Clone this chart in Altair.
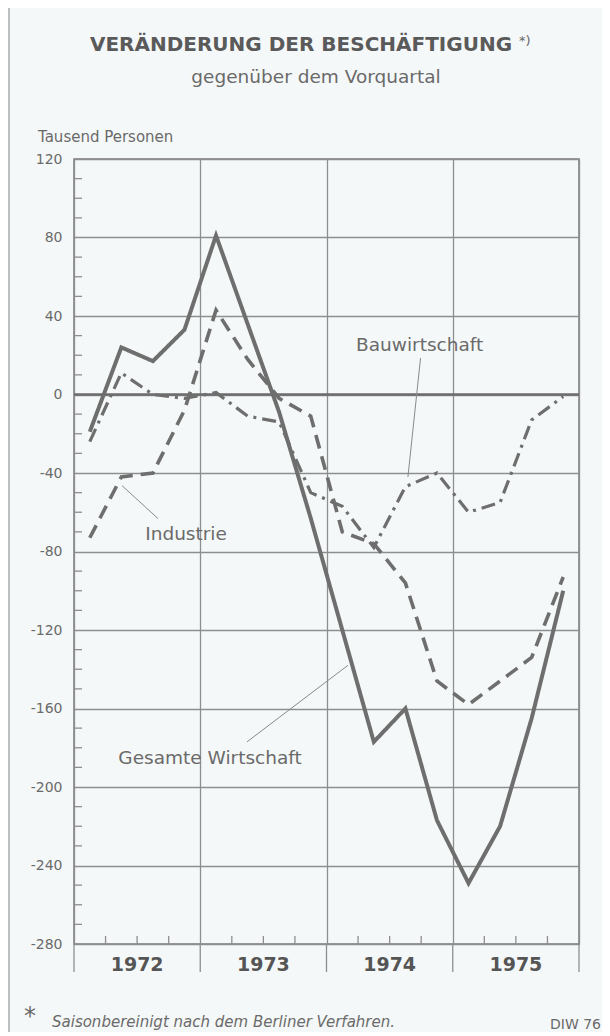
import altair as alt
import pandas as pd

# ---- data (quarterly, 1972 Q1 .. 1975 Q4) ----
quarter_pos = [i + 0.5 for i in range(16)]
gesamt = [-19, 24, 17, 33, 81, 36, -9, -63, -120, -177, -160, -217, -249, -220, -165, -100]
industrie = [-73, -42, -40, -8, 43, 18, -2, -11, -70, -76, -96, -146, -158, -146, -134, -93]
bau = [-24, 11, 0, -2, 1, -11, -14, -50, -57, -78, -47, -40, -60, -55, -13, -1]

years = ["1972", "1973", "1974", "1975"]
year_centers = [2, 6, 10, 14]
year_bounds = [0, 4, 8, 12, 16]
quarter_bounds = [q for q in range(1, 16) if q % 4 != 0]
y_major = list(range(-280, 121, 40))
y_minor = [v for v in range(-270, 120, 10) if v % 40 != 0]

series_labels = ["Bauwirtschaft", "Industrie", "Gesamte Wirtschaft"]
label_x = [10.95, 3.55, 4.31]
label_y = [25, -71, -185]
leader_x = [10.98, 2.66, 5.48]
leader_y = [18.6, -63.2, -177]
leader_x2 = [10.58, 1.52, 8.68]
leader_y2 = [-42, -46.4, -138]

W, H = 505, 785
FONT = "DejaVu Sans"
INK = "#6a6a6a"
GRID = "#8e8e8e"
LINE = "#6e6e6e"

xs = alt.Scale(domain=[0, 16], nice=False, zero=False)
ys = alt.Scale(domain=[-280, 120], nice=False, zero=False)

df = pd.DataFrame({
    "q": quarter_pos * 3,
    "v": gesamt + industrie + bau,
    "s": ["Gesamte Wirtschaft"] * 16 + ["Industrie"] * 16 + ["Bauwirtschaft"] * 16,
})

grid = alt.Chart(df).mark_point(opacity=0).encode(
    x=alt.X("q:Q", scale=xs, axis=alt.Axis(values=year_bounds, grid=True, gridColor=GRID,
                                           gridWidth=1.3, labels=False, ticks=False,
                                           domain=False, title=None)),
    y=alt.Y("v:Q", scale=ys, axis=alt.Axis(values=y_major, grid=True, gridColor=GRID,
                                           gridWidth=1.3, ticks=False, domain=False,
                                           labelExpr="'' + datum.value", labelFont=FONT,
                                           labelFontSize=14, labelColor=INK, labelPadding=12,
                                           title=None)),
)

zero = alt.Chart(pd.DataFrame({"v": [0]})).mark_rule(color="#6c6c6c", strokeWidth=2.6).encode(
    y=alt.Y("v:Q", scale=ys))

ymin = alt.Chart(pd.DataFrame({"v": y_minor})).mark_rule(color=GRID, strokeWidth=1.3).encode(
    y=alt.Y("v:Q", scale=ys), x=alt.value(0), x2=alt.value(8))

qmin = alt.Chart(pd.DataFrame({"q": quarter_bounds})).mark_rule(color=GRID, strokeWidth=1.3).encode(
    x=alt.X("q:Q", scale=xs), y=alt.value(H), y2=alt.value(H - 8))

ysep = alt.Chart(pd.DataFrame({"q": year_bounds})).mark_rule(color=GRID, strokeWidth=1.3).encode(
    x=alt.X("q:Q", scale=xs), y=alt.value(H), y2=alt.value(H + 28))

ylab = alt.Chart(pd.DataFrame({"q": year_centers, "t": years})).mark_text(
    font=FONT, fontSize=19, fontWeight="bold", color="#555555", baseline="middle").encode(
    x=alt.X("q:Q", scale=xs), y=alt.value(H + 21), text="t:N")

def series(name, dash, width):
    return alt.Chart(df[df.s == name]).mark_line(
        color=LINE, strokeWidth=width, strokeDash=dash, strokeJoin="miter", strokeCap="butt").encode(
        x=alt.X("q:Q", scale=xs), y=alt.Y("v:Q", scale=ys))

l_ges = series("Gesamte Wirtschaft", [1, 0], 4)
l_ind = series("Industrie", [14, 8], 3.6)
l_bau = series("Bauwirtschaft", [14, 6, 3, 6], 3.2)

ann = pd.DataFrame({"t": series_labels, "x": label_x, "y": label_y,
                    "lx": leader_x, "ly": leader_y, "lx2": leader_x2, "ly2": leader_y2})
leaders = alt.Chart(ann).mark_rule(color="#8a8a8a", strokeWidth=1).encode(
    x=alt.X("lx:Q", scale=xs), y=alt.Y("ly:Q", scale=ys),
    x2="lx2:Q", y2="ly2:Q")
labels = alt.Chart(ann).mark_text(font=FONT, fontSize=18.5, color=INK, baseline="middle").encode(
    x=alt.X("x:Q", scale=xs), y=alt.Y("y:Q", scale=ys), text="t:N")

def txt(s, x, y, size, weight="normal", align="center", style="normal", color=INK):
    return alt.Chart(pd.DataFrame({"t": [s]})).mark_text(
        font=FONT, fontSize=size, fontWeight=weight, align=align, fontStyle=style,
        color=color, baseline="middle").encode(x=alt.value(x), y=alt.value(y), text="t:N")

title = txt("VERÄNDERUNG DER BESCHÄFTIGUNG", 227, -114, 20, "bold", color="#5a5a5a")
star = txt("*)", 445, -118, 13, color="#666666", align="left")
subtitle = txt("gegenüber dem Vorquartal", 242, -82, 18.5)
unit = txt("Tausend Personen", -36, -22, 15, align="left")
fstar = txt("*", -44, 858, 24, align="center")
foot = txt("Saisonbereinigt nach dem Berliner Verfahren.", -22, 863, 15, align="left", style="italic")
diw = txt("DIW 76", 527, 866, 14, align="right")

frame = alt.Chart(pd.DataFrame({"a": [1]})).mark_rect(
    fill=None, stroke="#9a9a9a", strokeWidth=1.2).encode(
    x=alt.value(-65), x2=alt.value(532), y=alt.value(-154), y2=alt.value(900))

chart = alt.layer(
    frame, grid, zero, ymin, qmin, ysep, ylab, leaders, labels,
    l_bau, l_ind, l_ges, title, star, subtitle, unit, fstar, foot, diw,
).properties(
    width=W, height=H,
    autosize=alt.AutoSizeParams(type="none"),
    padding={"left": 66, "top": 151, "right": 23, "bottom": 88},
    background="#f5f8f8",
).configure_view(stroke="#7a7a7a", strokeWidth=1.5)

chart.save("out.html", embed_options={"renderer": "svg", "actions": False})
